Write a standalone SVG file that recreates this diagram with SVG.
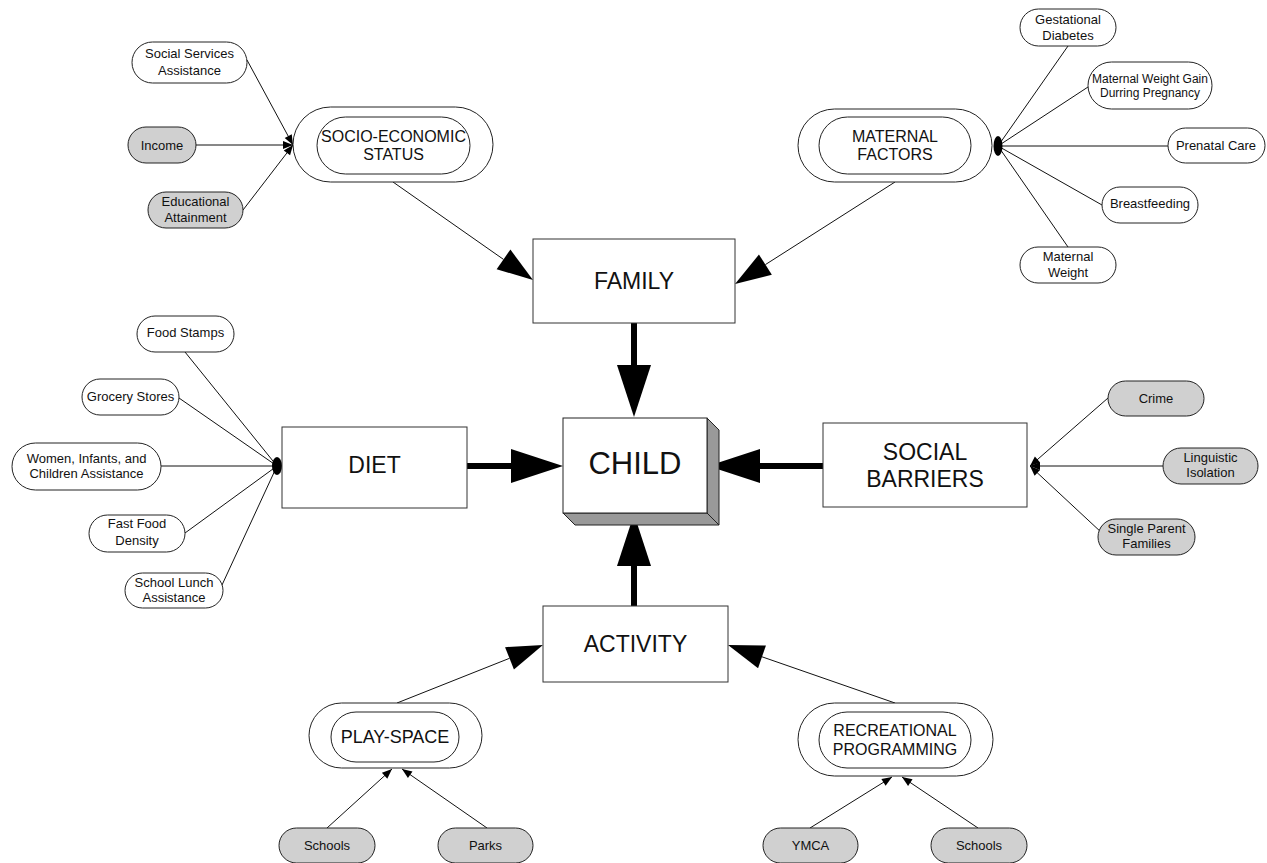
<svg xmlns="http://www.w3.org/2000/svg" width="1267" height="863" viewBox="0 0 1267 863">
<style>
text{font-family:"Liberation Sans",Arial,sans-serif;fill:#111;text-anchor:middle}
.s{font-size:13px}
.xs{font-size:12px}
.m{font-size:16px}
.b{font-size:23px}
.box{fill:#fff;stroke:#333;stroke-width:1}
.pw{fill:#fff;stroke:#222;stroke-width:1}
.pg{fill:#d0d0d0;stroke:#222;stroke-width:1}
.ln{stroke:#111;stroke-width:1;fill:none}
.thin{stroke:#111;stroke-width:1;fill:none;marker-end:url(#sm)}
.big{stroke:#111;stroke-width:1;fill:none;marker-end:url(#bg)}
.thick{stroke:#000;stroke-width:6;fill:none;marker-end:url(#th)}
</style>
<defs>
<marker id="sm" markerUnits="userSpaceOnUse" markerWidth="10" markerHeight="8" refX="10" refY="4" orient="auto" overflow="visible"><path d="M0,0 L10,4 L0,8 z" fill="#000"/></marker>
<marker id="bg" markerUnits="userSpaceOnUse" markerWidth="36" markerHeight="24" refX="0" refY="12" orient="auto" overflow="visible"><path d="M0,0 L36,12 L0,24 z" fill="#000"/></marker>
<marker id="th" markerUnits="userSpaceOnUse" markerWidth="52" markerHeight="34" refX="0" refY="17" orient="auto" overflow="visible"><path d="M0,0 L52,17 L0,34 z" fill="#000"/></marker>
</defs>

<g id="connectors">
<line class="thin" x1="247" y1="60" x2="293" y2="145"/>
<line class="thin" x1="196" y1="145" x2="293" y2="145"/>
<line class="thin" x1="243" y1="210" x2="293" y2="145"/>
<line class="big" x1="393" y1="182" x2="503.5" y2="259.4"/>
<line class="big" x1="895" y1="182" x2="765.4" y2="264.6"/>
<line class="ln" x1="1068" y1="46" x2="998" y2="146"/>
<line class="ln" x1="1088" y1="87" x2="998" y2="146"/>
<line class="ln" x1="1168" y1="146" x2="998" y2="146"/>
<line class="ln" x1="1102" y1="205" x2="998" y2="146"/>
<line class="ln" x1="1068" y1="247" x2="998" y2="146"/>
<ellipse cx="998" cy="146" rx="4.5" ry="10" fill="#000"/>
<line class="ln" x1="185" y1="352" x2="277" y2="466"/>
<line class="ln" x1="179" y1="398" x2="277" y2="466"/>
<line class="ln" x1="161" y1="466" x2="277" y2="466"/>
<line class="ln" x1="185" y1="533" x2="277" y2="466"/>
<line class="ln" x1="222" y1="585" x2="277" y2="466"/>
<ellipse cx="277" cy="466" rx="5" ry="9" fill="#000"/>
<line class="thin" x1="1108" y1="398" x2="1030" y2="466"/>
<line class="thin" x1="1163" y1="466" x2="1030" y2="466"/>
<line class="thin" x1="1102" y1="533" x2="1030" y2="466"/>
<line class="thick" x1="634" y1="323" x2="634" y2="365"/>
<line class="thick" x1="467" y1="466" x2="511" y2="466"/>
<line class="thick" x1="823" y1="466" x2="760" y2="466"/>
<line class="thick" x1="634" y1="606" x2="634" y2="566"/>
<line class="big" x1="397" y1="703" x2="509.5" y2="658.3"/>
<line class="big" x1="895" y1="703" x2="762" y2="656.8"/>
<line class="thin" x1="327" y1="828" x2="392" y2="769"/>
<line class="thin" x1="487" y1="828" x2="402" y2="769"/>
<line class="thin" x1="810" y1="828" x2="892" y2="777"/>
<line class="thin" x1="978" y1="828" x2="902" y2="777"/>
</g>

<g id="child">
<polygon points="707,418 719,430 719,525 707,513" fill="#999" stroke="#222" stroke-width="1"/>
<polygon points="563,513 707,513 719,525 575,525" fill="#999" stroke="#222" stroke-width="1"/>
<rect x="563" y="418" width="144" height="95" fill="#fff" stroke="#222" stroke-width="1"/>
<text x="635" y="474" style="font-size:31px">CHILD</text>
</g>
<g id="family"><rect class="box" x="533" y="239" width="202" height="84"/><text class="b" x="634" y="289">FAMILY</text></g>
<g id="diet"><rect class="box" x="282" y="427" width="185" height="81"/><text class="b" x="374.5" y="473">DIET</text></g>
<g id="social"><rect class="box" x="823" y="423" width="204" height="84"/><text class="b" x="925" y="460">SOCIAL</text><text class="b" x="925" y="487">BARRIERS</text></g>
<g id="activity"><rect class="box" x="543" y="606" width="185" height="76"/><text class="b" x="635.5" y="652">ACTIVITY</text></g>

<g id="ses">
<rect class="pw" x="293" y="107" width="200" height="75" rx="37.5"/>
<rect class="pw" x="317" y="117" width="153" height="57" rx="28.5"/>
<text class="m" x="393.5" y="142">SOCIO-ECONOMIC</text><text class="m" x="393.5" y="160">STATUS</text>
</g>
<g id="maternal">
<rect class="pw" x="798" y="109" width="194" height="73" rx="36.5"/>
<rect class="pw" x="819" y="117" width="152" height="57" rx="28.5"/>
<text class="m" x="895" y="142">MATERNAL</text><text class="m" x="895" y="160">FACTORS</text>
</g>
<g id="playspace">
<rect class="pw" x="309" y="703" width="173" height="65" rx="32.5"/>
<rect class="pw" x="331" y="712" width="128" height="50" rx="25"/>
<text x="395" y="743" style="font-size:18px">PLAY-SPACE</text>
</g>
<g id="recreational">
<rect class="pw" x="798" y="703" width="195" height="73" rx="36.5"/>
<rect class="pw" x="819" y="712" width="152" height="56" rx="28"/>
<text class="m" x="895" y="736">RECREATIONAL</text><text class="m" x="895" y="755">PROGRAMMING</text>
</g>

<g id="social-services"><rect class="pw" x="132" y="42" width="115" height="41" rx="20.5"/><text class="s" x="189.5" y="58">Social Services</text><text class="s" x="189.5" y="75">Assistance</text></g>
<g id="income"><rect class="pg" x="128" y="127" width="68" height="36" rx="18"/><text class="s" x="162" y="150">Income</text></g>
<g id="education"><rect class="pg" x="148" y="192" width="95" height="36" rx="18"/><text class="s" x="195.5" y="206">Educational</text><text class="s" x="195.5" y="222">Attainment</text></g>

<g id="gestational"><rect class="pw" x="1020" y="9" width="96" height="37" rx="18.5"/><text class="s" x="1068" y="24">Gestational</text><text class="s" x="1068" y="40">Diabetes</text></g>
<g id="weight-gain"><rect class="pw" x="1088" y="62" width="124" height="47" rx="23.5"/><text class="xs" x="1150" y="83">Maternal Weight Gain</text><text class="xs" x="1150" y="97">Durring Pregnancy</text></g>
<g id="prenatal"><rect class="pw" x="1168" y="128" width="97" height="35" rx="17.5"/><text class="s" x="1216" y="150">Prenatal Care</text></g>
<g id="breastfeeding"><rect class="pw" x="1102" y="187" width="96" height="36" rx="18"/><text class="s" x="1150" y="208">Breastfeeding</text></g>
<g id="maternal-weight"><rect class="pw" x="1020" y="247" width="96" height="36" rx="18"/><text class="s" x="1068" y="261">Maternal</text><text class="s" x="1068" y="277">Weight</text></g>

<g id="food-stamps"><rect class="pw" x="137" y="316" width="97" height="36" rx="18"/><text class="s" x="185.5" y="337">Food Stamps</text></g>
<g id="grocery"><rect class="pw" x="82" y="379" width="97" height="36" rx="18"/><text class="s" x="130.5" y="401">Grocery Stores</text></g>
<g id="wic"><rect class="pw" x="12" y="443" width="149" height="47" rx="23.5"/><text class="s" x="86.5" y="463">Women, Infants, and</text><text class="s" x="86.5" y="478">Children Assistance</text></g>
<g id="fast-food"><rect class="pw" x="89" y="515" width="96" height="37" rx="18.5"/><text class="s" x="137" y="528">Fast Food</text><text class="s" x="137" y="545">Density</text></g>
<g id="school-lunch"><rect class="pw" x="125" y="573" width="98" height="35" rx="17.5"/><text class="s" x="174" y="587">School Lunch</text><text class="s" x="174" y="602">Assistance</text></g>

<g id="crime"><rect class="pg" x="1108" y="381" width="96" height="35" rx="17.5"/><text class="s" x="1156" y="403">Crime</text></g>
<g id="linguistic"><rect class="pg" x="1163" y="448" width="95" height="36" rx="18"/><text class="s" x="1210.5" y="462">Linguistic</text><text class="s" x="1210.5" y="477">Isolation</text></g>
<g id="single-parent"><rect class="pg" x="1098" y="519" width="97" height="36" rx="18"/><text class="s" x="1146.5" y="533">Single Parent</text><text class="s" x="1146.5" y="548">Families</text></g>

<g id="schools-play"><rect class="pg" x="279" y="828" width="96" height="35" rx="17.5"/><text class="s" x="327" y="850">Schools</text></g>
<g id="parks"><rect class="pg" x="438" y="828" width="95" height="35" rx="17.5"/><text class="s" x="485.5" y="850">Parks</text></g>
<g id="ymca"><rect class="pg" x="763" y="828" width="95" height="35" rx="17.5"/><text class="s" x="810.5" y="850">YMCA</text></g>
<g id="schools-rec"><rect class="pg" x="931" y="828" width="96" height="35" rx="17.5"/><text class="s" x="979" y="850">Schools</text></g>
</svg>
